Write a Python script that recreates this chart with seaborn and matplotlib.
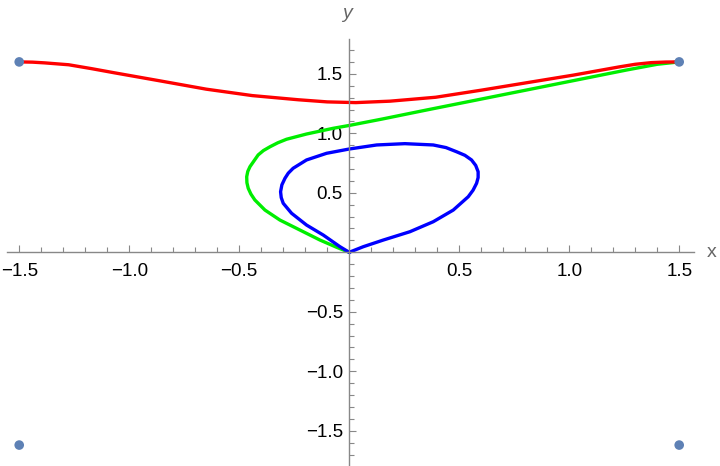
import numpy as np
import pandas as pd
import matplotlib
matplotlib.use("Agg")
import matplotlib.pyplot as plt
import seaborn as sns
from matplotlib.ticker import MultipleLocator, FuncFormatter

# ---- data ----
red_x = [-1.5, -1.44, -1.385, -1.275, -1.17, -1.066, -0.858, -0.65, -0.441, -0.232, -0.1, 0.03, 0.185, 0.393, 0.602, 0.81, 1.019, 1.227, 1.3, 1.373, 1.44, 1.5]
red_y = [1.600, 1.598, 1.592, 1.576, 1.543, 1.508, 1.440, 1.371, 1.317, 1.282, 1.264, 1.258, 1.270, 1.303, 1.363, 1.426, 1.489, 1.558, 1.580, 1.594, 1.599, 1.600]

green_x = [0.0, -0.057, -0.133, -0.224, -0.315, -0.383, -0.429, -0.447, -0.459, -0.465, -0.466, -0.461, -0.451, -0.414, -0.39, -0.36, -0.325, -0.285, -0.194, -0.073, 0.0, 0.15, 0.352, 0.655, 0.958, 1.261, 1.4, 1.5]
green_y = [0.0, 0.042, 0.103, 0.187, 0.271, 0.355, 0.440, 0.490, 0.538, 0.585, 0.635, 0.680, 0.720, 0.818, 0.855, 0.887, 0.920, 0.950, 0.994, 1.042, 1.066, 1.120, 1.196, 1.308, 1.420, 1.532, 1.580, 1.600]

blue_x = [0.0, -0.042, -0.118, -0.194, -0.262, -0.3, -0.309, -0.312, -0.306, -0.292, -0.277, -0.255, -0.194, -0.103, 0.0, 0.125, 0.253, 0.382, 0.44, 0.488, 0.526, 0.556, 0.575, 0.586, 0.586, 0.579, 0.563, 0.541, 0.473, 0.382, 0.276, 0.155, 0.064, 0.0]
blue_y = [0.0, 0.047, 0.145, 0.229, 0.328, 0.412, 0.460, 0.509, 0.567, 0.622, 0.665, 0.706, 0.776, 0.832, 0.868, 0.902, 0.913, 0.902, 0.880, 0.845, 0.815, 0.776, 0.730, 0.677, 0.628, 0.580, 0.522, 0.467, 0.355, 0.257, 0.173, 0.103, 0.047, 0.0]

pts_x = [-1.5, 1.5, -1.5, 1.5]
pts_y = [1.6, 1.6, -1.62, -1.62]

sns.set_theme(style="white")
plt.rcParams['font.family'] = ['Liberation Sans', 'DejaVu Sans']

fig = plt.figure(figsize=(7.2, 4.66), dpi=100)
W, H = 720, 466
left_px, right_px = 6.9, 693.5
top_px, bot_px = 39.3, 464.7
ax = fig.add_axes([left_px / W, (H - bot_px) / H, (right_px - left_px) / W, (bot_px - top_px) / H])

# draw green first, then blue, then red on top like reference
for xs, ys, col in [(green_x, green_y, "#00ee00"), (blue_x, blue_y, "#0000ff"), (red_x, red_y, "#ff0000")]:
    df = pd.DataFrame({"x": xs, "y": ys})
    sns.lineplot(data=df, x="x", y="y", sort=False, estimator=None, color=col, lw=2.4, ax=ax,
                 solid_joinstyle="round", solid_capstyle="round")

sns.scatterplot(x=pts_x, y=pts_y, color="#5e81b5", s=48, edgecolor="none", ax=ax, clip_on=False, zorder=5)

ax.set_xlim(-1.556, 1.565)
ax.set_ylim(-1.785, 1.79)

for s in ["top", "right"]:
    ax.spines[s].set_visible(False)
ax.spines["left"].set_position(("data", 0))
ax.spines["bottom"].set_position(("data", 0))
for s in ["left", "bottom"]:
    ax.spines[s].set_color("#888888")
    ax.spines[s].set_linewidth(1.0)

ax.xaxis.set_major_locator(MultipleLocator(0.5))
ax.xaxis.set_minor_locator(MultipleLocator(0.1))
ax.yaxis.set_major_locator(MultipleLocator(0.5))
ax.yaxis.set_minor_locator(MultipleLocator(0.1))

def fmt(v, pos):
    if abs(v) < 1e-9:
        return ""
    s = f"{abs(v):.1f}"
    return ("\u2212" + s) if v < 0 else s

ax.xaxis.set_major_formatter(FuncFormatter(fmt))
ax.yaxis.set_major_formatter(FuncFormatter(fmt))
ax.tick_params(which="major", direction="in", length=5.3, width=0.8, color="#888888", labelsize=13.5, labelcolor="black")
ax.tick_params(which="minor", direction="in", length=3.3, width=0.8, color="#888888")
ax.tick_params(axis="x", which="major", pad=7.5)
ax.tick_params(axis="y", which="major", pad=4.5)
ax.tick_params(axis="x", which="both", bottom=True, top=False)
ax.tick_params(axis="y", which="both", left=True, right=False)

ax.set_xlabel("")
ax.set_ylabel("")
ax.text(1.625, 0.0, "x", color="#666666", fontsize=14, ha="left", va="center", transform=ax.transData, clip_on=False)
ax.text(-0.01, 2.01, "y", color="#666666", fontsize=14, ha="center", va="center", style="italic", transform=ax.transData, clip_on=False)

fig.savefig("out.png", dpi=100)
